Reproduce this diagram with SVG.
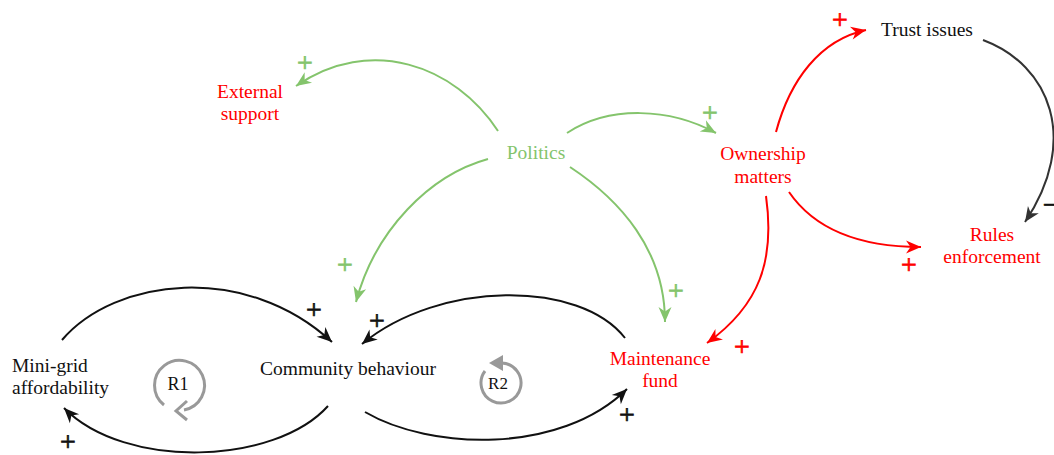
<svg xmlns="http://www.w3.org/2000/svg" width="1054" height="455" viewBox="0 0 1054 455" font-family="'Liberation Serif', 'DejaVu Serif', serif">
  <style>
    text { font-family: "Liberation Serif", "DejaVu Serif", serif; }
    .lbl { font-size: 19.5px; text-anchor: middle; }
    .blk { fill: #111111; }
    .red { fill: #ff0000; }
    .grn { fill: #84c46c; }
    .sign { font-size: 28px; text-anchor: middle; stroke-width: 0.7px; }
    .sign.blk { stroke: #111111; }
    .sign.red { stroke: #ff0000; }
    .sign.grn { stroke: #84c46c; }
    .edge { fill: none; stroke-width: 2; }
    .e-blk { stroke: #111111; marker-end: url(#arr-blk); }
    .e-dk { stroke: #333333; marker-end: url(#arr-dk); }
    .e-red { stroke: #ff0000; marker-end: url(#arr-red); }
    .e-grn { stroke: #84c46c; marker-end: url(#arr-grn); }
    .loop { fill: none; stroke: #999999; stroke-width: 3; }
  </style>
  <defs>
    <marker id="arr-blk" viewBox="-16 -8 17 16" refX="0" refY="0" markerWidth="17" markerHeight="16" markerUnits="userSpaceOnUse" orient="auto">
      <path d="M0,0 L-15,-6.5 L-10.5,0 L-15,6.5 Z" fill="#111111"/>
    </marker>
    <marker id="arr-dk" viewBox="-16 -8 17 16" refX="0" refY="0" markerWidth="17" markerHeight="16" markerUnits="userSpaceOnUse" orient="auto">
      <path d="M0,0 L-15,-6.5 L-10.5,0 L-15,6.5 Z" fill="#333333"/>
    </marker>
    <marker id="arr-red" viewBox="-16 -8 17 16" refX="0" refY="0" markerWidth="17" markerHeight="16" markerUnits="userSpaceOnUse" orient="auto">
      <path d="M0,0 L-15,-6.5 L-10.5,0 L-15,6.5 Z" fill="#ff0000"/>
    </marker>
    <marker id="arr-grn" viewBox="-16 -8 17 16" refX="0" refY="0" markerWidth="17" markerHeight="16" markerUnits="userSpaceOnUse" orient="auto">
      <path d="M0,0 L-15,-6.5 L-10.5,0 L-15,6.5 Z" fill="#84c46c"/>
    </marker>
  </defs>

  <!-- causal links -->
  <g id="connectors">
    <path class="edge e-blk" d="M62,340 C115,278 245,262 332,342"/>
    <path class="edge e-blk" d="M328,406 C275,465 125,470 64,408"/>
    <path class="edge e-blk" d="M625,338 C580,280 440,280 362,344"/>
    <path class="edge e-blk" d="M365,412 C430,450 560,455 627,389"/>
    <path class="edge e-grn" d="M498,131 C455,65 370,35 296,86"/>
    <path class="edge e-grn" d="M567,133 C610,105 670,108 716,133"/>
    <path class="edge e-grn" d="M488,159 C430,175 375,230 356,302"/>
    <path class="edge e-grn" d="M570,167 C620,200 665,250 665,322"/>
    <path class="edge e-red" d="M776,132 C790,80 820,40 866,30"/>
    <path class="edge e-red" d="M789,192 C815,230 860,247 921,247"/>
    <path class="edge e-red" d="M766,196 C775,260 760,305 707,343"/>
    <path class="edge e-dk" d="M983,40 C1050,65 1080,140 1025,222"/>
  </g>

  <!-- polarity signs -->
  <g id="polarities">
    <text class="sign blk" x="314" y="319">+</text>
    <text class="sign blk" x="68" y="451">+</text>
    <text class="sign blk" x="377" y="330">+</text>
    <text class="sign blk" x="627" y="424">+</text>
    <text class="sign grn" x="305" y="72">+</text>
    <text class="sign grn" x="710" y="122">+</text>
    <text class="sign grn" x="345" y="274">+</text>
    <text class="sign grn" x="676" y="300">+</text>
    <text class="sign red" x="840" y="29">+</text>
    <text class="sign red" x="909" y="274">+</text>
    <text class="sign red" x="742" y="356">+</text>
    <text class="sign blk" x="1051" y="214">−</text>
  </g>

  <!-- loop markers -->
  <g id="loop-R1">
    <path class="loop" d="M164,405 A25,25 0 1 1 184,410"/>
    <path class="loop" d="M187,401 L176,411 L187,420"/>
    <text class="lbl blk" x="178" y="390" style="font-size:18px">R1</text>
  </g>
  <g id="loop-R2">
    <path class="loop" d="M485,371 A20,20 0 1 0 502,363"/>
    <path d="M489,363 L503,355 L503,371 Z" fill="#999999"/>
    <text class="lbl blk" x="498" y="389" style="font-size:17px">R2</text>
  </g>

  <!-- variables -->
  <g id="node-trust"><text class="lbl blk" x="927" y="36">Trust issues</text></g>
  <g id="node-external"><text class="lbl red" x="250" y="98">External</text><text class="lbl red" x="250" y="120">support</text></g>
  <g id="node-politics"><text class="lbl grn" x="536" y="159">Politics</text></g>
  <g id="node-ownership"><text class="lbl red" x="763" y="160">Ownership</text><text class="lbl red" x="763" y="183">matters</text></g>
  <g id="node-rules"><text class="lbl red" x="992" y="241">Rules</text><text class="lbl red" x="992" y="263">enforcement</text></g>
  <g id="node-affordability"><text class="lbl blk" x="12" y="372" style="text-anchor:start">Mini-grid</text><text class="lbl blk" x="12" y="394" style="text-anchor:start">affordability</text></g>
  <g id="node-community"><text class="lbl blk" x="348" y="375">Community behaviour</text></g>
  <g id="node-maintenance"><text class="lbl red" x="660" y="365">Maintenance</text><text class="lbl red" x="660" y="387">fund</text></g>
</svg>
